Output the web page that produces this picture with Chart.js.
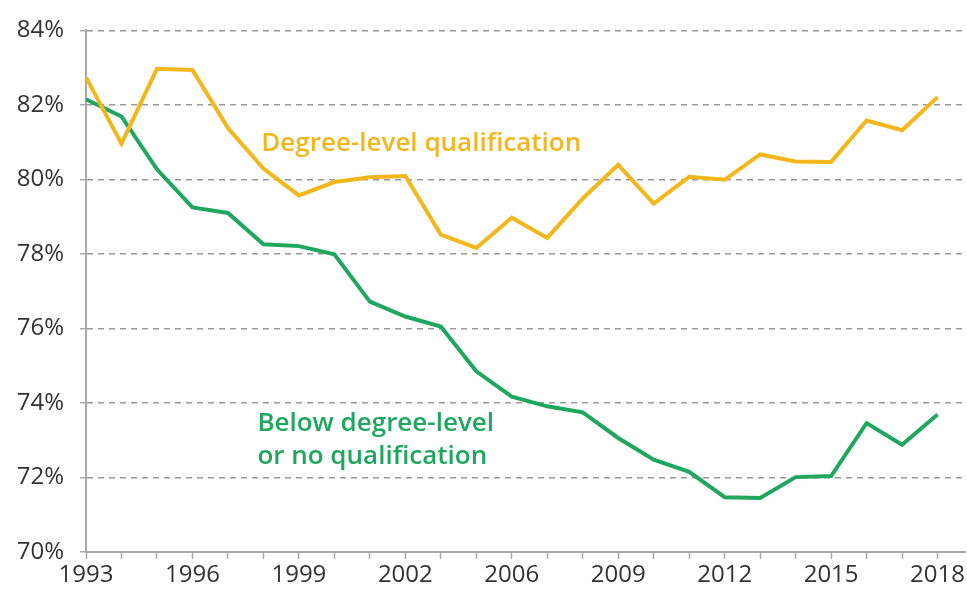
<!DOCTYPE html>
<html>
<head>
<meta charset="utf-8">
<script src="https://cdn.jsdelivr.net/npm/chart.js@4"></script>
<style>
    body { margin: 0; background: #fff; }
    #wrap { width: 967px; height: 589px; }
</style>
</head>
<body>
<div id="wrap"><canvas id="chart"></canvas></div>
<script>
// years on the x axis (2003 not in the series)
const years = ['1993', '1994', '1995', '1996', '1997', '1998', '1999', '2000', '2001', '2002',
    '2004', '2005', '2006', '2007', '2008', '2009', '2010', '2011', '2012', '2013',
    '2014', '2015', '2016', '2017', '2018']
const shownYears = ['1993', '1996', '1999', '2002', '2006', '2009', '2012', '2015', '2018']

// employment rate, %
const degreeLevel = [82.74, 80.96, 82.97, 82.94, 81.38, 80.29, 79.57, 79.93, 80.06, 80.09,
    78.52, 78.16, 78.97, 78.43, 79.49, 80.39, 79.35, 80.07, 79.99, 80.67,
    80.48, 80.47, 81.58, 81.32, 82.21]
const belowDegree = [82.15, 81.69, 80.27, 79.25, 79.10, 78.26, 78.21, 77.99, 76.72, 76.32,
    76.05, 74.85, 74.17, 73.91, 73.75, 73.06, 72.48, 72.15, 71.47, 71.45,
    72.01, 72.04, 73.46, 72.88, 73.69]

const yTicks = [70, 72, 74, 76, 78, 80, 82, 84]

const yellow = '#f3b61b'
const green = '#1fa75f'

// text labels next to the lines, placed in data units
const lineLabels = [
    { text: 'Degree-level qualification', x: 4.94, y: 80.95, color: yellow },
    { text: 'Below degree-level', x: 4.83, y: 73.45, color: green },
    { text: 'or no qualification', x: 4.83, y: 72.57, color: green }
]

const labelPlugin = {
    id: 'lineLabels',
    afterDatasetsDraw(chart) {
        const ctx = chart.ctx
        const xs = chart.scales.x
        const ys = chart.scales.y
        ctx.save()
        ctx.font = '600 26px "Open Sans"'
        ctx.textAlign = 'left'
        ctx.textBaseline = 'middle'
        lineLabels.forEach(l => {
            ctx.fillStyle = l.color
            ctx.fillText(l.text, xs.getPixelForValue(l.x), ys.getPixelForValue(l.y))
        })
        ctx.restore()
    }
}

const ctx = document.getElementById('chart').getContext('2d')
new Chart(ctx, {
    type: 'line',
    data: {
        labels: years,
        datasets: [
            {
                label: 'Degree-level qualification',
                data: degreeLevel.map((v, i) => ({ x: i, y: v })),
                borderColor: yellow,
                borderWidth: 4,
                pointRadius: 0,
                tension: 0
            },
            {
                label: 'Below degree-level or no qualification',
                data: belowDegree.map((v, i) => ({ x: i, y: v })),
                borderColor: green,
                borderWidth: 4,
                pointRadius: 0,
                tension: 0
            }
        ]
    },
    options: {
        responsive: true,
        maintainAspectRatio: false,
        animation: false,
        layout: { padding: { top: 28, right: 0, left: 0, bottom: 0 } },
        plugins: {
            legend: { display: false },
            tooltip: { enabled: false }
        },
        scales: {
            x: {
                type: 'linear',
                min: 0,
                max: 24.8,
                afterBuildTicks: scale => {
                    scale.ticks = years.map((_, i) => ({ value: i }))
                },
                afterFit: scale => { scale.height = 37 },
                grid: {
                    drawOnChartArea: false,
                    drawTicks: true,
                    tickLength: 7,
                    tickColor: '#aaaaaa',
                    tickWidth: 1.5
                },
                border: { color: '#aaaaaa', width: 2 },
                ticks: {
                    autoSkip: false,
                    maxRotation: 0,
                    padding: 2,
                    color: '#333333',
                    font: { family: 'Open Sans', size: 24 },
                    callback: value => {
                        const y = years[value]
                        return shownYears.includes(y) ? y : ''
                    }
                }
            },
            y: {
                min: 70,
                max: 84,
                afterBuildTicks: scale => {
                    scale.ticks = yTicks.map(v => ({ value: v }))
                },
                afterFit: scale => { scale.width = 86 },
                grid: {
                    color: '#999999',
                    lineWidth: 1.5,
                    tickLength: 6,
                    tickColor: '#aaaaaa',
                    tickWidth: 1.5,
                    tickBorderDash: []
                },
                border: { color: '#aaaaaa', width: 2, dash: [6, 5] },
                ticks: {
                    padding: 16,
                    color: '#333333',
                    font: { family: 'Open Sans', size: 24 },
                    callback: value => value + '%'
                }
            }
        }
    },
    plugins: [labelPlugin]
})
</script>
</body>
</html>
